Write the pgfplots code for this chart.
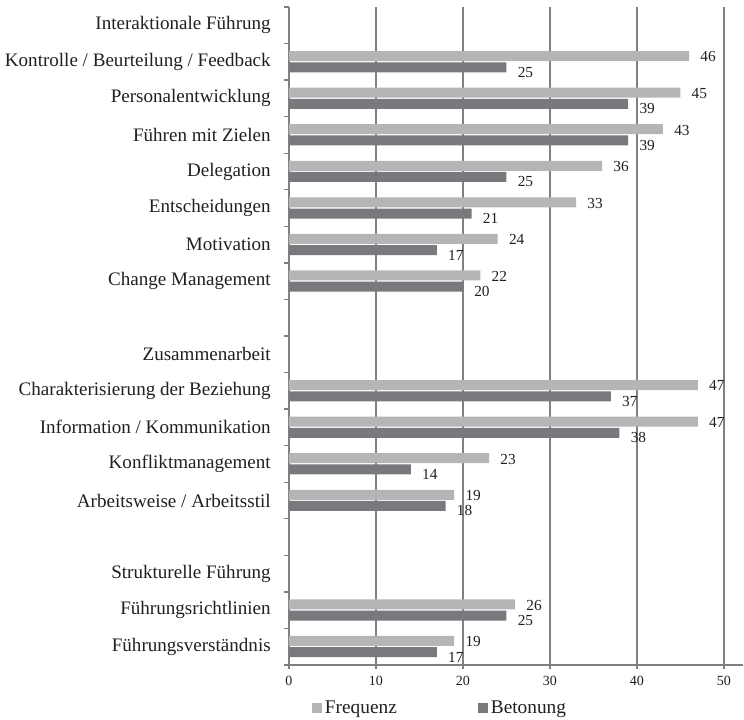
\documentclass[border=0pt]{standalone}
\usepackage{fontspec}
\setmainfont{Liberation Serif}
\usepackage{pgfplots}
\pgfplotsset{compat=1.18}
\definecolor{frq}{RGB}{179,181,183}
\definecolor{bet}{RGB}{120,121,125}
\definecolor{axgray}{RGB}{128,128,128}
\definecolor{txt}{RGB}{35,31,32}
\begin{document}
\begin{tikzpicture}
\useasboundingbox (-216.75pt,-41.25pt) rectangle (341.25pt,498.75pt);
\begin{axis}[
  scale only axis,
  width=340.5pt, height=493.5pt,
  xbar, bar width=7.5pt,
  xmin=0, xmax=52.2,
  ymin=0.5, ymax=18.5,
  axis x line*=bottom, axis y line*=left,
  axis line style={axgray, line width=1.1pt, -},
  xtick={0,10,...,50},
  xmajorgrids,
  grid style={axgray, line width=1.1pt},
  x tick style={axgray, line width=1pt},
  xtick align=outside, major tick length=3pt,
  /pgf/number format/assume math mode=true,
  xticklabel style={font=\fontsize{10.5}{12}\selectfont, text=txt, yshift=-2pt},
  ytick={1,...,18},
  y tick style={draw=none},
  yticklabels={Führungsverständnis, Führungsrichtlinien, Strukturelle Führung, {},
    Arbeitsweise / Arbeitsstil, Konfliktmanagement, Information / Kommunikation,
    Charakterisierung der Beziehung, Zusammenarbeit, {}, Change Management,
    Motivation, Entscheidungen, Delegation, Führen mit Zielen, Personalentwicklung,
    Kontrolle / Beurteilung / Feedback, Interaktionale Führung},
  yticklabel style={font=\fontsize{14.3}{16}\selectfont, text=txt, inner sep=0pt, xshift=-10.5pt},
  extra y ticks={0.5,1.5,...,18.5},
  extra y tick labels={},
  extra y tick style={y tick style={draw=axgray, line width=1pt}, major tick length=3.75pt, ytick pos=left, tick align=outside},
  nodes near coords,
  every node near coord/.append style={font=\fontsize{11.5}{13}\selectfont, text=txt, anchor=west, inner sep=0pt, xshift=8.3pt},
  legend columns=2,
  legend style={at={(axis description cs:0.0507,-0.0653)}, anchor=west, draw=none, fill=none,
    font=\fontsize{14.5}{17}\selectfont, text=txt, inner sep=0pt,
    /tikz/every even column/.style={column sep=59pt}},
  legend image code/.code={\fill[#1, draw=none] (0pt,-3.75pt) rectangle (7.5pt,3.75pt);},
]
\addplot[fill=frq, draw=none, bar shift=4.3pt, every node near coord/.append style={yshift=-0.6pt}] coordinates {
  (46,17) (45,16) (43,15) (36,14) (33,13) (24,12) (22,11)
  (47,8) (47,7) (23,6) (19,5)
  (26,2) (19,1)};
\addlegendentry{Frequenz}
\addplot[fill=bet, draw=none, bar shift=-4.1pt, every node near coord/.append style={yshift=-3.7pt}] coordinates {
  (25,17) (39,16) (39,15) (25,14) (21,13) (17,12) (20,11)
  (37,8) (38,7) (14,6) (18,5)
  (25,2) (17,1)};
\addlegendentry{Betonung}
\end{axis}
\end{tikzpicture}
\end{document}
